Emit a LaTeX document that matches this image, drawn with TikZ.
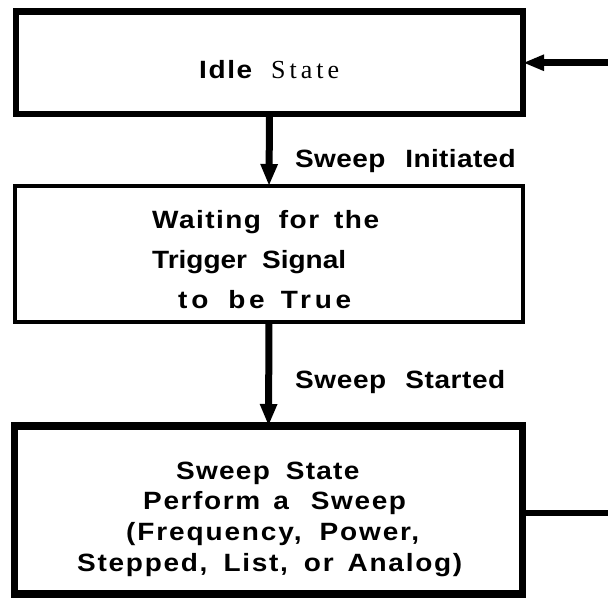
\documentclass[tikz,border=0pt]{standalone}
\usepackage{fontspec}
\usetikzlibrary{arrows.meta}
\newfontfamily\hvfont[FakeStretch=1.12]{Liberation Sans}
\newfontfamily\tmfont{Liberation Serif}
\newcommand\trk[1]{\addfontfeature{LetterSpace=#1}}
\begin{document}
\begin{tikzpicture}[x=1pt,y=-1pt,
  box/.style={draw,rectangle,inner sep=0pt,outer sep=0pt,line join=miter},
  txt/.style={anchor=base west,inner sep=0pt,font=\hvfont\bfseries\fontsize{25}{28}\selectfont},
  flow/.style={line width=7pt,-{Triangle[length=22pt,width=16pt]}},
  plain/.style={line width=6.5pt}]
\useasboundingbox (0,0) rectangle (608,598);
% boxes
\node[box,line width=6.5pt,minimum width=507pt,minimum height=102.5pt] (idle) at (269.5,62.75) {};
\node[box,line width=4pt,minimum width=508.5pt,minimum height=136pt] (wait) at (269,254) {};
\node[box,line width=7.5pt,minimum width=508pt,minimum height=168pt] (sweep) at (268.5,510) {};
% texts
\node[txt] (tidle) at (199,78) {\trk{6.4}Idle\hspace{19pt}\mdseries\tmfont\fontsize{26}{30}\selectfont\addfontfeature{LetterSpace=15.4}State};
\node[txt] (tinit) at (295,167) {\trk{1.5}Sweep\hspace{20pt}Initiated};
\node[txt] (tw1) at (152,228) {\trk{5.8}Waiting\hspace{18pt}for\hspace{15pt}the};
\node[txt] (tw2) at (152,268) {Trigger\hspace{15pt}Signal};
\node[txt] (tw3) at (178,308) {\trk{15}to\hspace{20pt}be\hspace{16pt}True};
\node[txt] (tstart) at (295,388) {\trk{2.4}Sweep\hspace{19pt}Started};
\node[txt] (ts1) at (176,479) {\trk{5}Sweep\hspace{16pt}State};
\node[txt] (ts2) at (143,509) {\trk{6.5}Perform\hspace{13pt}a\hspace{22pt}Sweep};
\node[txt] (ts3) at (126,540) {\trk{7.5}(Frequency,\hspace{18pt}Power,};
\node[txt] (ts4) at (77,571) {\trk{6.9}Stepped,\hspace{16pt}List,\hspace{16pt}or\hspace{14pt}Analog)};
% connectors
\coordinate (inR) at (608,62.75);
\coordinate (outR) at (608,513);
\draw[flow] (idle.south) -- (wait.north);
\draw[flow] (wait.south) -- (sweep.north);
\draw[line width=7pt,-{Triangle[length=21pt,width=15pt]}] (inR) -- (idle.east);
\draw[plain] (outR -| sweep.east) -- (outR);
\end{tikzpicture}
\end{document}
